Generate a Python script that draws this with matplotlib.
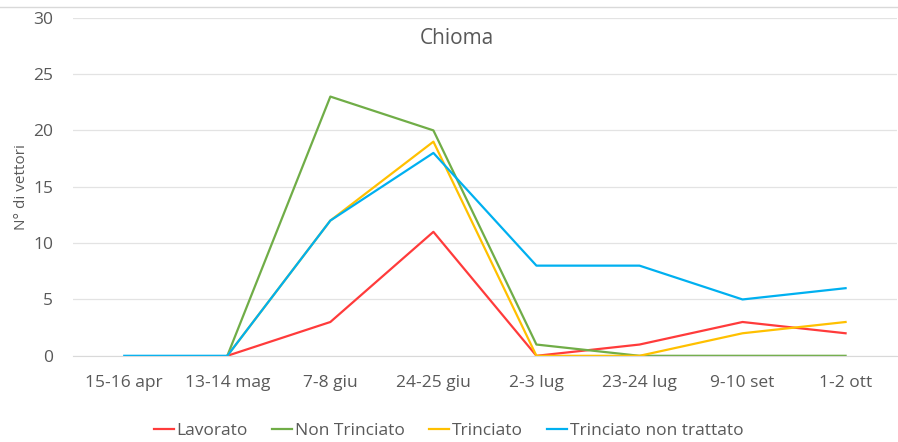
import numpy as np
import matplotlib
matplotlib.use("Agg")
import matplotlib.pyplot as plt

# dati
date = ["15-16 apr", "13-14 mag", "7-8 giu", "24-25 giu", "2-3 lug", "23-24 lug", "9-10 set", "1-2 ott"]
lavorato = [np.nan, 0, 3, 11, 0, 1, 3, 2]
non_trinciato = [np.nan, 0, 23, 20, 1, 0, 0, 0]
trinciato = [np.nan, 0, 12, 19, 0, 0, 2, 3]
trinciato_non_trattato = [0, 0, 12, 18, 8, 8, 5, 6]

plt.rcParams['font.family'] = ['Open Sans', 'DejaVu Sans']
grigio = '#595959'

fig = plt.figure(figsize=(8.98, 4.42), dpi=100)
ax = fig.add_axes([0.081, 0.195, 0.918, 0.765])

x = np.arange(len(date))
ax.plot(x, lavorato, color='#FF3B3B', lw=1.6, label="Lavorato")
ax.plot(x, non_trinciato, color='#70AD47', lw=1.6, label="Non Trinciato")
ax.plot(x, trinciato, color='#FFC000', lw=1.6, label="Trinciato")
ax.plot(x, trinciato_non_trattato, color='#00B0F0', lw=1.6, label="Trinciato non trattato")

ax.set_xlim(-0.5, len(date) - 0.5)
ax.set_ylim(0, 30)
ax.set_yticks(range(0, 31, 5))
ax.set_xticks(x)
ax.set_xticklabels(date)

for s in ['top', 'right', 'left']:
    ax.spines[s].set_visible(False)
ax.spines['bottom'].set_color('#D9D9D9')
ax.yaxis.grid(True, color='#E3E3E3', lw=0.9)
ax.set_axisbelow(True)
ax.tick_params(length=0, colors=grigio, labelsize=12.5)
ax.tick_params(axis='x', pad=14)
ax.tick_params(axis='y', pad=14)

ax.set_ylabel("N° di vettori", fontsize=11, color=grigio, labelpad=3)
fig.text(457 / 898, 1 - 38 / 442, "Chioma", ha='center', va='center', fontsize=15, color=grigio)

leg = ax.legend(loc='center', bbox_to_anchor=(0.456, -0.223), ncol=4, frameon=False,
                fontsize=12.5, handlelength=1.15, handletextpad=0.15, columnspacing=1.4)
for t in leg.get_texts():
    t.set_color(grigio)

# bordo superiore del grafico
fig.add_artist(plt.Line2D([0, 1], [0.984, 0.984], color='#D9D9D9', lw=1))

fig.savefig("out.png", dpi=100)
